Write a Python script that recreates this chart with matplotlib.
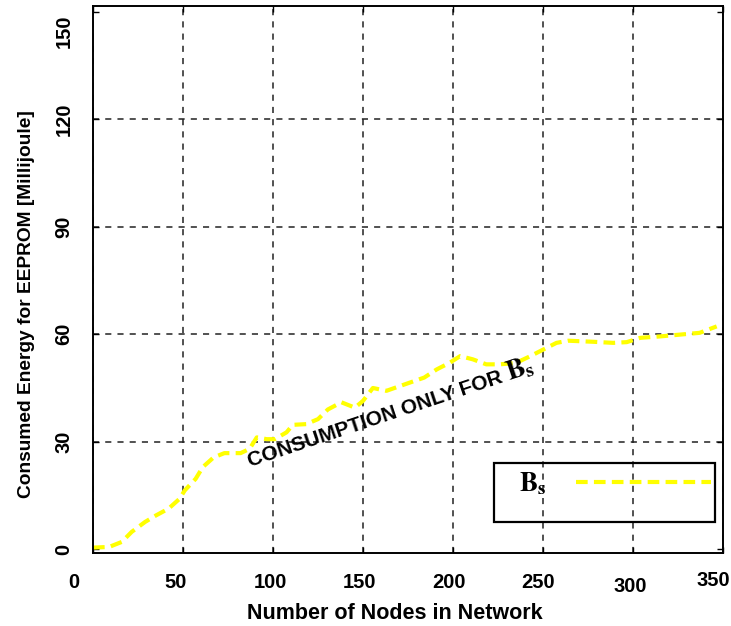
import numpy as np
import matplotlib
matplotlib.use('Agg')
import matplotlib.pyplot as plt
import matplotlib.transforms as mtransforms
from matplotlib.patches import Rectangle

# values
nodes = [0, 9, 16, 21.5, 29, 35, 42, 48, 51, 57, 61, 67, 73, 82, 87, 91, 96.5, 101,
         107.5, 111, 118.5, 125, 130.5, 138, 145.5, 150, 155.5, 163, 176, 184, 191,
         198, 204, 211, 218.5, 226, 235, 243, 250, 257.5, 264, 278, 289, 296.5, 304,
         315, 326, 337, 346.5]
energy = [0.4, 0.6, 2.0, 4.8, 7.6, 9.4, 11.3, 14.0, 16.4, 19.6, 22.9, 25.6, 26.8,
          26.8, 28.0, 31.2, 30.7, 30.7, 32.6, 34.7, 34.9, 36.3, 39.0, 41.0, 39.5,
          41.4, 45.0, 44.2, 46.5, 47.9, 50.2, 52.0, 53.9, 53.0, 51.6, 51.6, 52.0,
          53.9, 55.7, 57.6, 58.2, 57.9, 57.6, 57.8, 59.0, 59.4, 59.9, 60.4, 62.2]

x_ticks = [0, 50, 100, 150, 200, 250, 300, 350]
y_ticks = [0, 30, 60, 90, 120, 150]
series_label = r'$\mathbf{B}_{\mathbf{s}}$'

plt.rcParams['font.family'] = ['Liberation Sans', 'DejaVu Sans']
plt.rcParams['mathtext.fontset'] = 'stix'

fig = plt.figure(figsize=(7.31, 6.26), dpi=100)
ax = fig.add_axes([93/731, 1 - 553/626, 630/731, 547/626])

ax.plot(nodes, energy, color='#ffff00', lw=3, dashes=(2.8, 1.5), label=series_label)

ax.set_xlim(0, 350)
ax.set_ylim(-1.1, 151.7)
ax.set_xticks(x_ticks)
ax.set_yticks(y_ticks)
ax.tick_params(direction='in', length=4, width=1, labelsize=14.5, top=True, right=True)
ax.tick_params(axis='x', pad=14.5)
ax.tick_params(axis='y', pad=14, labelrotation=90)
for lab in ax.get_xticklabels() + ax.get_yticklabels():
    lab.set_fontweight('bold')
for lab in ax.get_yticklabels():
    lab.set_va('center')

# nudge tick labels like the original
x_shift = [(-19, 0), (-7, 0), (-3, 0), (-4, 0), (-4, 0), (-5, 0), (-3, -4), (-10, 2)]
for lab, (dx, dy) in zip(ax.get_xticklabels(), x_shift):
    lab.set_transform(lab.get_transform() +
                      mtransforms.ScaledTranslation(dx/100, dy/100, fig.dpi_scale_trans))
ylabs = ax.get_yticklabels()
ylabs[-1].set_transform(ylabs[-1].get_transform() +
                        mtransforms.ScaledTranslation(0, -19/100, fig.dpi_scale_trans))

ax.grid(True, color='#222222', ls=(0, (4, 4)), lw=1.1)
gl = ax.yaxis.get_gridlines()
gl[0].set_visible(False)
gl[-1].set_visible(False)
for s in ax.spines.values():
    s.set_linewidth(1.4)

ax.set_xlabel('Number of Nodes in Network', fontsize=15.5, fontweight='bold')
ax.xaxis.set_label_coords(0.479, -0.091)
ax.set_ylabel('Consumed Energy for EEPROM [Millijoule]', fontsize=13.8, fontweight='bold')
ax.yaxis.set_label_coords(-0.092, 0.456)

# rotated note, sans text + larger serif B_s
ax.text(87.5, 22.8, 'CONSUMPTION ONLY FOR', fontsize=15, fontweight='bold',
        rotation=18.5, ha='left', va='baseline', rotation_mode='anchor')
ax.text(231.5, 47.0, series_label, fontsize=20, rotation=18.5, ha='left',
        va='baseline', rotation_mode='anchor')

# legend box
ax.add_patch(Rectangle((0.6365, 0.0567), 0.3505, 0.1078, transform=ax.transAxes,
                       fill=False, ec='black', lw=1.6, zorder=5))
leg = ax.legend(loc='center left', bbox_to_anchor=(0.676, 0.126), borderaxespad=0,
                borderpad=0, markerfirst=False, handlelength=5.0, handletextpad=1.1,
                fontsize=19.5, frameon=False)

fig.savefig('out.png', dpi=100)
